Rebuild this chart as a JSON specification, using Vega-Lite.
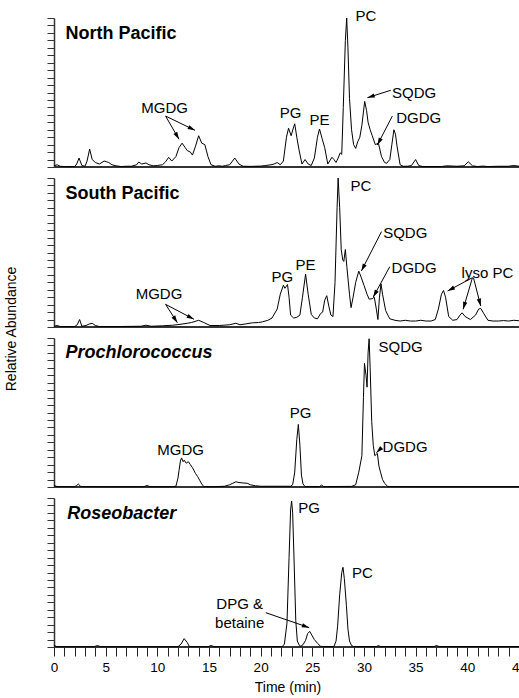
{
"$schema": "https://vega.github.io/schema/vega-lite/v6.json",
"padding": {"left": 4, "top": 9, "right": 0, "bottom": 0},
"bounds": "flush",
"config": {"view": {"stroke": null}, "font": "Liberation Sans", "text": {"font": "Liberation Sans"},
  "axisX": {"domain": false, "grid": false, "tickSize": 9, "tickColor": "#222", "tickWidth": 1, "labelFontSize": 13.5, "labelColor": "black", "labelPadding": 4, "labelFont": "Liberation Sans", "labelOverlap": false, "labelFlush": false, "labelBound": false, "titleFont": "Liberation Sans", "titleFontSize": 14, "titleFontWeight": "normal", "titleColor": "black", "titlePadding": 7},
  "axisY": {"labels": false, "grid": false, "domainColor": "#333", "domainWidth": 1.5, "tickColor": "#333", "tickSize": 7}},
"data": {"values": [
{"p":"NP","k":"l","t":0,"v":0.8},{"p":"NP","k":"l","t":0.3,"v":1.5},{"p":"NP","k":"l","t":0.6,"v":0.5},{"p":"NP","k":"l","t":1.0,"v":0.3},{"p":"NP","k":"l","t":2.0,"v":0.3},{"p":"NP","k":"l","t":2.2,"v":2},{"p":"NP","k":"l","t":2.42,"v":6},{"p":"NP","k":"l","t":2.7,"v":1},{"p":"NP","k":"l","t":3.0,"v":0.5},{"p":"NP","k":"l","t":3.2,"v":4},{"p":"NP","k":"l","t":3.45,"v":12},{"p":"NP","k":"l","t":3.7,"v":5},{"p":"NP","k":"l","t":4.0,"v":3},{"p":"NP","k":"l","t":4.4,"v":2},{"p":"NP","k":"l","t":4.85,"v":4},{"p":"NP","k":"l","t":5.1,"v":3.5},{"p":"NP","k":"l","t":5.3,"v":3},{"p":"NP","k":"l","t":5.6,"v":1.5},{"p":"NP","k":"l","t":6.0,"v":0.8},{"p":"NP","k":"l","t":6.5,"v":0.3},{"p":"NP","k":"l","t":7.0,"v":0.5},{"p":"NP","k":"l","t":7.5,"v":0.5},{"p":"NP","k":"l","t":8.0,"v":1.5},{"p":"NP","k":"l","t":8.2,"v":3.3},{"p":"NP","k":"l","t":8.5,"v":2},{"p":"NP","k":"l","t":8.9,"v":2.7},{"p":"NP","k":"l","t":9.2,"v":1.5},{"p":"NP","k":"l","t":9.6,"v":0.8},{"p":"NP","k":"l","t":10.0,"v":1.0},{"p":"NP","k":"l","t":10.5,"v":1.5},{"p":"NP","k":"l","t":10.8,"v":3.5},{"p":"NP","k":"l","t":11.1,"v":6.5},{"p":"NP","k":"l","t":11.4,"v":4},{"p":"NP","k":"l","t":11.8,"v":7},{"p":"NP","k":"l","t":12.1,"v":13},{"p":"NP","k":"l","t":12.4,"v":16},{"p":"NP","k":"l","t":12.7,"v":13},{"p":"NP","k":"l","t":12.9,"v":11},{"p":"NP","k":"l","t":13.2,"v":10},{"p":"NP","k":"l","t":13.4,"v":8},{"p":"NP","k":"l","t":13.7,"v":14},{"p":"NP","k":"l","t":14.0,"v":21},{"p":"NP","k":"l","t":14.3,"v":16},{"p":"NP","k":"l","t":14.6,"v":15},{"p":"NP","k":"l","t":14.9,"v":7},{"p":"NP","k":"l","t":15.2,"v":1.5},{"p":"NP","k":"l","t":15.6,"v":0.5},{"p":"NP","k":"l","t":16.0,"v":0.8},{"p":"NP","k":"l","t":16.3,"v":0.5},{"p":"NP","k":"l","t":16.6,"v":1},{"p":"NP","k":"l","t":17.0,"v":1.5},{"p":"NP","k":"l","t":17.5,"v":6},{"p":"NP","k":"l","t":17.9,"v":2},{"p":"NP","k":"l","t":18.3,"v":0.5},{"p":"NP","k":"l","t":19,"v":0.4},{"p":"NP","k":"l","t":20,"v":0.6},{"p":"NP","k":"l","t":20.5,"v":1},{"p":"NP","k":"l","t":21,"v":1.5},{"p":"NP","k":"l","t":21.3,"v":2},{"p":"NP","k":"l","t":21.6,"v":3},{"p":"NP","k":"l","t":21.9,"v":1.5},{"p":"NP","k":"l","t":22.2,"v":4},{"p":"NP","k":"l","t":22.5,"v":20},{"p":"NP","k":"l","t":22.7,"v":26},{"p":"NP","k":"l","t":22.95,"v":21},{"p":"NP","k":"l","t":23.2,"v":27},{"p":"NP","k":"l","t":23.3,"v":29},{"p":"NP","k":"l","t":23.5,"v":20},{"p":"NP","k":"l","t":23.7,"v":12},{"p":"NP","k":"l","t":24.0,"v":2},{"p":"NP","k":"l","t":24.3,"v":5},{"p":"NP","k":"l","t":24.6,"v":2},{"p":"NP","k":"l","t":24.9,"v":1},{"p":"NP","k":"l","t":25.2,"v":6},{"p":"NP","k":"l","t":25.5,"v":20},{"p":"NP","k":"l","t":25.7,"v":25.5},{"p":"NP","k":"l","t":25.95,"v":19},{"p":"NP","k":"l","t":26.2,"v":13},{"p":"NP","k":"l","t":26.5,"v":2},{"p":"NP","k":"l","t":26.9,"v":6.5},{"p":"NP","k":"l","t":27.1,"v":5},{"p":"NP","k":"l","t":27.3,"v":3},{"p":"NP","k":"l","t":27.5,"v":6},{"p":"NP","k":"l","t":27.7,"v":9.5},{"p":"NP","k":"l","t":27.85,"v":8.5},{"p":"NP","k":"l","t":28.0,"v":40},{"p":"NP","k":"l","t":28.2,"v":85},{"p":"NP","k":"l","t":28.33,"v":100},{"p":"NP","k":"l","t":28.45,"v":80},{"p":"NP","k":"l","t":28.6,"v":46},{"p":"NP","k":"l","t":28.8,"v":25},{"p":"NP","k":"l","t":29.0,"v":15},{"p":"NP","k":"l","t":29.2,"v":12.5},{"p":"NP","k":"l","t":29.4,"v":17},{"p":"NP","k":"l","t":29.6,"v":20},{"p":"NP","k":"l","t":29.8,"v":28},{"p":"NP","k":"l","t":30.07,"v":44},{"p":"NP","k":"l","t":30.25,"v":38},{"p":"NP","k":"l","t":30.4,"v":30},{"p":"NP","k":"l","t":30.6,"v":25},{"p":"NP","k":"l","t":30.8,"v":21},{"p":"NP","k":"l","t":31.1,"v":15},{"p":"NP","k":"l","t":31.4,"v":16},{"p":"NP","k":"l","t":31.7,"v":7},{"p":"NP","k":"l","t":32.0,"v":3},{"p":"NP","k":"l","t":32.2,"v":2.5},{"p":"NP","k":"l","t":32.5,"v":5},{"p":"NP","k":"l","t":32.7,"v":15},{"p":"NP","k":"l","t":32.9,"v":25},{"p":"NP","k":"l","t":33.05,"v":22},{"p":"NP","k":"l","t":33.2,"v":14},{"p":"NP","k":"l","t":33.5,"v":1.5},{"p":"NP","k":"l","t":33.8,"v":0.5},{"p":"NP","k":"l","t":34.2,"v":0.5},{"p":"NP","k":"l","t":34.6,"v":1},{"p":"NP","k":"l","t":35.0,"v":5},{"p":"NP","k":"l","t":35.3,"v":1},{"p":"NP","k":"l","t":35.7,"v":0.3},{"p":"NP","k":"l","t":36.5,"v":0.3},{"p":"NP","k":"l","t":37.5,"v":0.3},{"p":"NP","k":"l","t":38,"v":0.8},{"p":"NP","k":"l","t":39,"v":0.5},{"p":"NP","k":"l","t":39.7,"v":0.8},{"p":"NP","k":"l","t":40.1,"v":3.5},{"p":"NP","k":"l","t":40.5,"v":0.8},{"p":"NP","k":"l","t":41.0,"v":0.3},{"p":"NP","k":"l","t":41.5,"v":0.6},{"p":"NP","k":"l","t":42.0,"v":0.3},{"p":"NP","k":"l","t":43,"v":0.5},{"p":"NP","k":"l","t":44,"v":0.5},{"p":"NP","k":"l","t":44.5,"v":1},{"p":"NP","k":"l","t":45.0,"v":0.5},{"p":"NP","k":"l","t":45.2,"v":0.5},
{"p":"SP","k":"l","t":0,"v":0.5},{"p":"SP","k":"l","t":0.3,"v":1},{"p":"SP","k":"l","t":0.6,"v":0.3},{"p":"SP","k":"l","t":2.0,"v":0.3},{"p":"SP","k":"l","t":2.25,"v":1.5},{"p":"SP","k":"l","t":2.48,"v":5},{"p":"SP","k":"l","t":2.7,"v":0.5},{"p":"SP","k":"l","t":3.1,"v":1},{"p":"SP","k":"l","t":3.4,"v":2},{"p":"SP","k":"l","t":3.7,"v":2.5},{"p":"SP","k":"l","t":4.0,"v":1},{"p":"SP","k":"l","t":4.4,"v":0.3},{"p":"SP","k":"l","t":6,"v":0.3},{"p":"SP","k":"l","t":8.4,"v":0.5},{"p":"SP","k":"l","t":8.9,"v":1.2},{"p":"SP","k":"l","t":9.4,"v":0.5},{"p":"SP","k":"l","t":10.5,"v":0.8},{"p":"SP","k":"l","t":11.5,"v":1.2},{"p":"SP","k":"l","t":12.0,"v":1.6},{"p":"SP","k":"l","t":12.4,"v":2},{"p":"SP","k":"l","t":12.9,"v":2.5},{"p":"SP","k":"l","t":13.3,"v":3},{"p":"SP","k":"l","t":14.0,"v":4.5},{"p":"SP","k":"l","t":14.5,"v":3},{"p":"SP","k":"l","t":15.1,"v":1},{"p":"SP","k":"l","t":16.0,"v":1},{"p":"SP","k":"l","t":17.0,"v":1.5},{"p":"SP","k":"l","t":17.6,"v":2.5},{"p":"SP","k":"l","t":18.0,"v":1.5},{"p":"SP","k":"l","t":18.5,"v":2},{"p":"SP","k":"l","t":19.2,"v":2.8},{"p":"SP","k":"l","t":19.8,"v":3},{"p":"SP","k":"l","t":20.2,"v":3.5},{"p":"SP","k":"l","t":20.7,"v":4.5},{"p":"SP","k":"l","t":21.1,"v":6},{"p":"SP","k":"l","t":21.6,"v":12},{"p":"SP","k":"l","t":21.9,"v":22},{"p":"SP","k":"l","t":22.2,"v":28},{"p":"SP","k":"l","t":22.35,"v":26},{"p":"SP","k":"l","t":22.6,"v":28.5},{"p":"SP","k":"l","t":22.75,"v":20},{"p":"SP","k":"l","t":22.9,"v":8},{"p":"SP","k":"l","t":23.2,"v":6},{"p":"SP","k":"l","t":23.5,"v":6.5},{"p":"SP","k":"l","t":23.8,"v":8},{"p":"SP","k":"l","t":24.05,"v":20},{"p":"SP","k":"l","t":24.35,"v":35.5},{"p":"SP","k":"l","t":24.6,"v":22},{"p":"SP","k":"l","t":24.9,"v":8.5},{"p":"SP","k":"l","t":25.2,"v":6},{"p":"SP","k":"l","t":25.5,"v":5.5},{"p":"SP","k":"l","t":25.8,"v":9},{"p":"SP","k":"l","t":26.0,"v":10},{"p":"SP","k":"l","t":26.2,"v":18},{"p":"SP","k":"l","t":26.4,"v":21},{"p":"SP","k":"l","t":26.6,"v":14},{"p":"SP","k":"l","t":26.8,"v":8},{"p":"SP","k":"l","t":27.0,"v":7},{"p":"SP","k":"l","t":27.2,"v":30},{"p":"SP","k":"l","t":27.4,"v":80},{"p":"SP","k":"l","t":27.5,"v":100},{"p":"SP","k":"l","t":27.65,"v":80},{"p":"SP","k":"l","t":27.8,"v":52},{"p":"SP","k":"l","t":27.95,"v":45},{"p":"SP","k":"l","t":28.05,"v":44},{"p":"SP","k":"l","t":28.2,"v":52},{"p":"SP","k":"l","t":28.35,"v":40},{"p":"SP","k":"l","t":28.6,"v":22},{"p":"SP","k":"l","t":28.75,"v":13},{"p":"SP","k":"l","t":28.95,"v":20},{"p":"SP","k":"l","t":29.2,"v":30},{"p":"SP","k":"l","t":29.5,"v":37.5},{"p":"SP","k":"l","t":29.75,"v":33},{"p":"SP","k":"l","t":30.0,"v":28},{"p":"SP","k":"l","t":30.3,"v":22},{"p":"SP","k":"l","t":30.5,"v":18.7},{"p":"SP","k":"l","t":30.8,"v":19},{"p":"SP","k":"l","t":31.0,"v":20},{"p":"SP","k":"l","t":31.2,"v":12},{"p":"SP","k":"l","t":31.35,"v":5},{"p":"SP","k":"l","t":31.5,"v":20},{"p":"SP","k":"l","t":31.65,"v":29},{"p":"SP","k":"l","t":31.8,"v":22},{"p":"SP","k":"l","t":32.1,"v":11},{"p":"SP","k":"l","t":32.5,"v":5.5},{"p":"SP","k":"l","t":33,"v":4.5},{"p":"SP","k":"l","t":33.5,"v":4},{"p":"SP","k":"l","t":34,"v":4.5},{"p":"SP","k":"l","t":34.5,"v":4},{"p":"SP","k":"l","t":35,"v":4},{"p":"SP","k":"l","t":35.5,"v":4.5},{"p":"SP","k":"l","t":36,"v":4},{"p":"SP","k":"l","t":36.5,"v":4},{"p":"SP","k":"l","t":36.9,"v":5},{"p":"SP","k":"l","t":37.2,"v":12},{"p":"SP","k":"l","t":37.5,"v":22},{"p":"SP","k":"l","t":37.7,"v":24.5},{"p":"SP","k":"l","t":37.9,"v":20},{"p":"SP","k":"l","t":38.2,"v":7},{"p":"SP","k":"l","t":38.6,"v":4.5},{"p":"SP","k":"l","t":39.0,"v":5},{"p":"SP","k":"l","t":39.3,"v":8},{"p":"SP","k":"l","t":39.5,"v":9.5},{"p":"SP","k":"l","t":39.8,"v":7},{"p":"SP","k":"l","t":40.3,"v":5},{"p":"SP","k":"l","t":40.8,"v":8},{"p":"SP","k":"l","t":41.1,"v":12},{"p":"SP","k":"l","t":41.3,"v":12.5},{"p":"SP","k":"l","t":41.6,"v":9},{"p":"SP","k":"l","t":42.0,"v":4.5},{"p":"SP","k":"l","t":42.5,"v":4},{"p":"SP","k":"l","t":43,"v":4},{"p":"SP","k":"l","t":43.5,"v":4.3},{"p":"SP","k":"l","t":44,"v":4},{"p":"SP","k":"l","t":44.5,"v":4.5},{"p":"SP","k":"l","t":45,"v":4.2},{"p":"SP","k":"l","t":45.2,"v":4.5},
{"p":"PR","k":"l","t":0,"v":1},{"p":"PR","k":"l","t":0.3,"v":0.3},{"p":"PR","k":"l","t":2.0,"v":0.2},{"p":"PR","k":"l","t":2.2,"v":1},{"p":"PR","k":"l","t":2.35,"v":2},{"p":"PR","k":"l","t":2.6,"v":0.3},{"p":"PR","k":"l","t":5,"v":0.2},{"p":"PR","k":"l","t":8.7,"v":0.2},{"p":"PR","k":"l","t":9.0,"v":1},{"p":"PR","k":"l","t":9.3,"v":0.2},{"p":"PR","k":"l","t":11.5,"v":0.2},{"p":"PR","k":"l","t":11.8,"v":0.5},{"p":"PR","k":"l","t":12.0,"v":6},{"p":"PR","k":"l","t":12.1,"v":11},{"p":"PR","k":"l","t":12.25,"v":18},{"p":"PR","k":"l","t":12.35,"v":19.5},{"p":"PR","k":"l","t":12.5,"v":17},{"p":"PR","k":"l","t":12.6,"v":18},{"p":"PR","k":"l","t":12.8,"v":16},{"p":"PR","k":"l","t":13.0,"v":17},{"p":"PR","k":"l","t":13.2,"v":15},{"p":"PR","k":"l","t":13.4,"v":13},{"p":"PR","k":"l","t":13.7,"v":9},{"p":"PR","k":"l","t":13.9,"v":7},{"p":"PR","k":"l","t":14.1,"v":4.5},{"p":"PR","k":"l","t":14.3,"v":2},{"p":"PR","k":"l","t":14.5,"v":0.3},{"p":"PR","k":"l","t":15.5,"v":0.2},{"p":"PR","k":"l","t":16.5,"v":0.5},{"p":"PR","k":"l","t":17.0,"v":1.5},{"p":"PR","k":"l","t":17.3,"v":2.5},{"p":"PR","k":"l","t":17.6,"v":3.5},{"p":"PR","k":"l","t":17.9,"v":3},{"p":"PR","k":"l","t":18.3,"v":2.7},{"p":"PR","k":"l","t":18.7,"v":2.5},{"p":"PR","k":"l","t":19.0,"v":1.5},{"p":"PR","k":"l","t":19.5,"v":0.8},{"p":"PR","k":"l","t":20,"v":0.5},{"p":"PR","k":"l","t":22.9,"v":0.5},{"p":"PR","k":"l","t":23.1,"v":1.5},{"p":"PR","k":"l","t":23.3,"v":10},{"p":"PR","k":"l","t":23.5,"v":32},{"p":"PR","k":"l","t":23.65,"v":42},{"p":"PR","k":"l","t":23.8,"v":28},{"p":"PR","k":"l","t":23.95,"v":8},{"p":"PR","k":"l","t":24.1,"v":2},{"p":"PR","k":"l","t":24.3,"v":0.3},{"p":"PR","k":"l","t":25.7,"v":0.3},{"p":"PR","k":"l","t":25.9,"v":1.3},{"p":"PR","k":"l","t":26.1,"v":0.3},{"p":"PR","k":"l","t":28.8,"v":0.4},{"p":"PR","k":"l","t":29.2,"v":1.5},{"p":"PR","k":"l","t":29.5,"v":10},{"p":"PR","k":"l","t":29.8,"v":21},{"p":"PR","k":"l","t":29.95,"v":60},{"p":"PR","k":"l","t":30.05,"v":83},{"p":"PR","k":"l","t":30.2,"v":75},{"p":"PR","k":"l","t":30.3,"v":67},{"p":"PR","k":"l","t":30.4,"v":90},{"p":"PR","k":"l","t":30.5,"v":99.5},{"p":"PR","k":"l","t":30.6,"v":80},{"p":"PR","k":"l","t":30.75,"v":44},{"p":"PR","k":"l","t":30.9,"v":28},{"p":"PR","k":"l","t":31.05,"v":21},{"p":"PR","k":"l","t":31.2,"v":22},{"p":"PR","k":"l","t":31.3,"v":22.5},{"p":"PR","k":"l","t":31.45,"v":14},{"p":"PR","k":"l","t":31.6,"v":10},{"p":"PR","k":"l","t":31.8,"v":5},{"p":"PR","k":"l","t":32.0,"v":2.5},{"p":"PR","k":"l","t":32.3,"v":0.3},{"p":"PR","k":"l","t":35,"v":0.2},{"p":"PR","k":"l","t":40,"v":0.2},{"p":"PR","k":"l","t":45.2,"v":0.2},
{"p":"RO","k":"l","t":0,"v":1},{"p":"RO","k":"l","t":0.3,"v":0.2},{"p":"RO","k":"l","t":3.9,"v":0.2},{"p":"RO","k":"l","t":4.2,"v":1},{"p":"RO","k":"l","t":4.5,"v":0.2},{"p":"RO","k":"l","t":12.0,"v":0.2},{"p":"RO","k":"l","t":12.3,"v":2},{"p":"RO","k":"l","t":12.6,"v":5.6},{"p":"RO","k":"l","t":12.9,"v":3},{"p":"RO","k":"l","t":13.1,"v":0.3},{"p":"RO","k":"l","t":14.9,"v":0.2},{"p":"RO","k":"l","t":15.2,"v":1},{"p":"RO","k":"l","t":15.5,"v":0.2},{"p":"RO","k":"l","t":22.1,"v":0.3},{"p":"RO","k":"l","t":22.3,"v":2},{"p":"RO","k":"l","t":22.55,"v":16},{"p":"RO","k":"l","t":22.75,"v":60},{"p":"RO","k":"l","t":22.9,"v":92},{"p":"RO","k":"l","t":23.0,"v":98},{"p":"RO","k":"l","t":23.1,"v":90},{"p":"RO","k":"l","t":23.25,"v":55},{"p":"RO","k":"l","t":23.4,"v":18},{"p":"RO","k":"l","t":23.55,"v":4},{"p":"RO","k":"l","t":23.75,"v":1},{"p":"RO","k":"l","t":23.9,"v":0.5},{"p":"RO","k":"l","t":24.1,"v":1.5},{"p":"RO","k":"l","t":24.35,"v":4.5},{"p":"RO","k":"l","t":24.55,"v":9},{"p":"RO","k":"l","t":24.75,"v":10.5},{"p":"RO","k":"l","t":24.95,"v":8},{"p":"RO","k":"l","t":25.2,"v":5},{"p":"RO","k":"l","t":25.5,"v":2.5},{"p":"RO","k":"l","t":25.8,"v":0.5},{"p":"RO","k":"l","t":26,"v":0.3},{"p":"RO","k":"l","t":27.1,"v":0.3},{"p":"RO","k":"l","t":27.3,"v":4},{"p":"RO","k":"l","t":27.45,"v":14},{"p":"RO","k":"l","t":27.65,"v":35},{"p":"RO","k":"l","t":27.85,"v":50},{"p":"RO","k":"l","t":27.97,"v":53.5},{"p":"RO","k":"l","t":28.1,"v":46},{"p":"RO","k":"l","t":28.3,"v":28},{"p":"RO","k":"l","t":28.45,"v":12},{"p":"RO","k":"l","t":28.6,"v":4},{"p":"RO","k":"l","t":28.8,"v":1},{"p":"RO","k":"l","t":29.0,"v":0.3},{"p":"RO","k":"l","t":31.2,"v":0.3},{"p":"RO","k":"l","t":31.4,"v":1},{"p":"RO","k":"l","t":31.6,"v":0.3},{"p":"RO","k":"l","t":36.8,"v":0.3},{"p":"RO","k":"l","t":37.0,"v":1},{"p":"RO","k":"l","t":37.3,"v":0.3},{"p":"RO","k":"l","t":45.2,"v":0.3},
{"p":"NP","k":"base","t":0,"v":0},{"p":"SP","k":"base","t":0,"v":0},{"p":"PR","k":"base","t":0,"v":0},{"p":"RO","k":"base","t":0,"v":0},
{"p":"NP","k":"ttl","t":1.12,"v":89.3,"s":"North Pacific"},{"p":"SP","k":"ttl","t":1.12,"v":89.5,"s":"South Pacific"},{"p":"PR","k":"ttli","t":1.12,"v":89.7,"s":"Prochlorococcus"},{"p":"RO","k":"ttli","t":1.29,"v":89,"s":"Roseobacter"},
{"p":"NP","k":"lab","t":10.7,"v":39.8,"s":"MGDG"},{"p":"NP","k":"lab","t":22.9,"v":36.4,"s":"PG"},{"p":"NP","k":"lab","t":25.7,"v":31.3,"s":"PE"},{"p":"NP","k":"lab","t":30.2,"v":101.3,"s":"PC"},{"p":"NP","k":"lab","t":34.85,"v":49.9,"s":"SQDG"},{"p":"NP","k":"lab","t":35.3,"v":32.7,"s":"DGDG"},
{"p":"SP","k":"lab","t":10.16,"v":21.9,"s":"MGDG"},{"p":"SP","k":"lab","t":22.1,"v":33.6,"s":"PG"},{"p":"SP","k":"lab","t":24.35,"v":41.6,"s":"PE"},{"p":"SP","k":"lab","t":29.7,"v":94.6,"s":"PC"},{"p":"SP","k":"lab","t":34.0,"v":63.3,"s":"SQDG"},{"p":"SP","k":"lab","t":34.85,"v":39.8,"s":"DGDG"},{"p":"SP","k":"lab","t":41.95,"v":36.4,"s":"lyso PC"},
{"p":"PR","k":"lab","t":12.25,"v":24.6,"s":"MGDG"},{"p":"PR","k":"lab","t":23.87,"v":49.5,"s":"PG"},{"p":"PR","k":"lab","t":33.55,"v":94.2,"s":"SQDG"},{"p":"PR","k":"lab","t":33.98,"v":26.8,"s":"DGDG"},
{"p":"RO","k":"lab","t":24.7,"v":93.1,"s":"PG"},{"p":"RO","k":"lab","t":29.85,"v":49.5,"s":"PC"},{"p":"RO","k":"lab","t":17.97,"v":28.6,"s":"DPG &"},{"p":"RO","k":"lab","t":17.97,"v":16.3,"s":"betaine"},
{"p":"NP","k":"arr","t":10.8,"v":34.2,"t2":12.1,"v2":18.6},{"p":"NP","k":"arr","t":10.8,"v":34.2,"t2":13.65,"v2":24.6},{"p":"NP","k":"arr","t":32.6,"v":51.5,"t2":30.33,"v2":46.5},{"p":"NP","k":"arr","t":32.75,"v":34.2,"t2":31.3,"v2":14.8},
{"p":"SP","k":"arr","t":10.8,"v":15.2,"t2":11.94,"v2":2.9},{"p":"SP","k":"arr","t":10.8,"v":15.2,"t2":13.55,"v2":5.2},{"p":"SP","k":"arr","t":31.7,"v":64,"t2":29.75,"v2":37.6},{"p":"SP","k":"arr","t":32.5,"v":40.5,"t2":30.9,"v2":20.1},{"p":"SP","k":"arr","t":40.5,"v":33.1,"t2":38.1,"v2":24.2},{"p":"SP","k":"arr","t":40.5,"v":33.1,"t2":39.6,"v2":11.9},{"p":"SP","k":"arr","t":40.6,"v":33.1,"t2":41.3,"v2":14.1},
{"p":"PR","k":"arr","t":31.65,"v":26,"t2":31.2,"v2":23},
{"p":"RO","k":"arr","t":20.5,"v":23.0,"t2":24.7,"v2":13.0}
]},
"facet": {"row": {"field": "p", "type": "nominal", "sort": ["NP","SP","PR","RO"], "title": "Relative Abundance",
  "header": {"labels": false, "titleFont": "Liberation Sans", "titleFontSize": 14, "titleFontWeight": "normal", "titleColor": "black", "titlePadding": 17, "labelPadding": 0}}},
"spacing": 11,
"spec": {
"width": 467,
"height": 149,
"encoding": {
  "x": {"field": "t", "type": "quantitative", "scale": {"domain": [0,45.2], "nice": false, "zero": false}, "title": "Time (min)",
    "axis": {"values": [0,1,2,3,4,5,6,7,8,9,10,11,12,13,14,15,16,17,18,19,20,21,22,23,24,25,26,27,28,29,30,31,32,33,34,35,36,37,38,39,40,41,42,43,44,45], "labelExpr": "datum.value % 5 === 0 ? datum.label : ''"}},
  "y": {"field": "v", "type": "quantitative", "scale": {"domain": [0,100], "nice": false}, "title": null,
    "axis": {"values": [0,5,10,15,20,25,30,35,40,45,50,55,60,65,70,75,80,85,90,95,100]}}
},
"layer": [
{"transform": [{"filter": "datum.k === 'base'"}],
 "mark": {"type": "rule", "color": "#333", "strokeWidth": 2},
 "encoding": {"x": null}},
{"transform": [{"filter": "datum.k === 'l'"}],
 "mark": {"type": "line", "color": "black", "strokeWidth": 1, "interpolate": "linear"},
 "encoding": {"order": {"field": "t", "type": "quantitative"}}},
{"transform": [{"filter": "datum.k === 'arr'"}],
 "mark": {"type": "rule", "color": "black", "strokeWidth": 1},
 "encoding": {"x2": {"field": "t2"}, "y2": {"field": "v2"}}},
{"transform": [{"filter": "datum.k === 'arr'"}, {"calculate": "atan2((datum.t2 - datum.t) * 10.33, (datum.v2 - datum.v) * 1.49) * 180 / PI", "as": "ang"}],
 "mark": {"type": "point", "shape": "M0,0L-0.42,1.4L0.42,1.4Z", "filled": true, "color": "black", "opacity": 1, "size": 110, "strokeWidth": 0},
 "encoding": {"x": {"field": "t2", "type": "quantitative", "title": "Time (min)"}, "y": {"field": "v2", "type": "quantitative", "title": null}, "angle": {"field": "ang", "type": "quantitative", "scale": null}}},
{"transform": [{"filter": "datum.k === 'lab'"}],
 "mark": {"type": "text", "fontSize": 15, "font": "Liberation Sans", "align": "center", "baseline": "middle", "color": "black"},
 "encoding": {"text": {"field": "s"}}},
{"transform": [{"filter": "datum.k === 'ttl'"}],
 "mark": {"type": "text", "fontSize": 18, "font": "Liberation Sans", "fontWeight": "bold", "align": "left", "baseline": "middle", "color": "black"},
 "encoding": {"text": {"field": "s"}}},
{"transform": [{"filter": "datum.k === 'ttli'"}],
 "mark": {"type": "text", "fontSize": 18, "font": "Liberation Sans", "fontWeight": "bold", "fontStyle": "italic", "align": "left", "baseline": "middle", "color": "black"},
 "encoding": {"text": {"field": "s"}}}
]
}
}
